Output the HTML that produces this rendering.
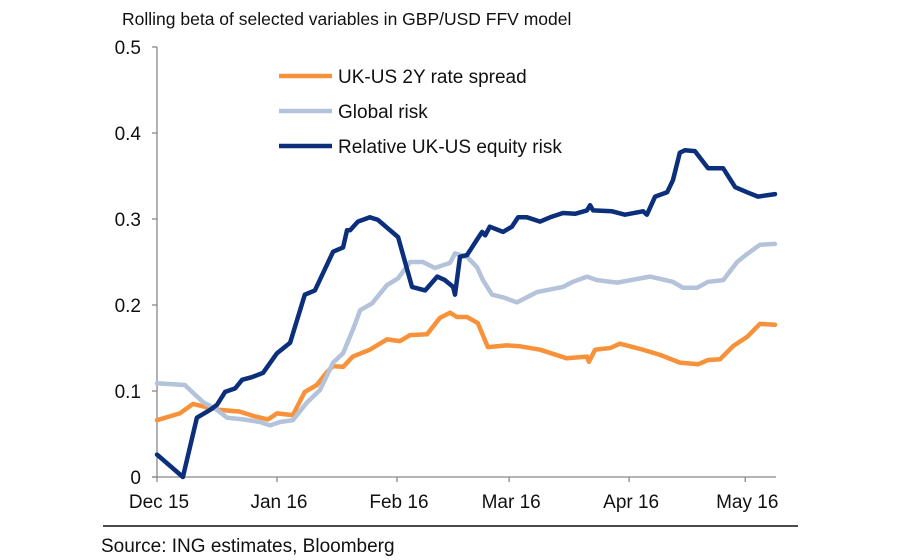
<!DOCTYPE html>
<html><head><meta charset="utf-8">
<style>
html,body{margin:0;padding:0;background:#fff;}
svg{display:block;font-family:"Liberation Sans",Arial,sans-serif;}
</style></head>
<body>
<svg id="chart" width="904" height="560" viewBox="0 0 904 560">
<text x="122" y="25" font-size="17.5" fill="#111">Rolling beta of selected variables in GBP/USD FFV model</text>
<g id="axes"></g>
<g id="series"></g>
<g id="legend">
<line x1="279" y1="76" x2="332" y2="76" stroke="#f7923a" stroke-width="4.5"/>
<text x="338" y="83" font-size="19" fill="#111">UK-US 2Y rate spread</text>
<line x1="279" y1="111" x2="332" y2="111" stroke="#b4c2da" stroke-width="4.5"/>
<text x="338" y="118" font-size="19" fill="#111">Global risk</text>
<line x1="279" y1="146" x2="332" y2="146" stroke="#0c2f7c" stroke-width="4.5"/>
<text x="338" y="153" font-size="19" fill="#111">Relative UK-US equity risk</text>
</g>
<line x1="103" y1="526" x2="798" y2="526" stroke="#111" stroke-width="1.5"/>
<text x="101" y="552" font-size="19" fill="#111">Source: ING estimates, Bloomberg</text>
</svg>
<script>
const yTicks = [0, 0.1, 0.2, 0.3, 0.4, 0.5];
const yTickLabels = ["0", "0.1", "0.2", "0.3", "0.4", "0.5"];
const monthDays = [0, 31, 62, 91, 122, 152];
const monthLabels = ["Dec 15", "Jan 16", "Feb 16", "Mar 16", "Apr 16", "May 16"];

const equityDays = [0,6.7,10.3,13.7,15.5,17.6,20.2,22,24.5,27.4,31,34.4,38.2,40.8,45.5,48.1,49.1,49.9,51.9,55,57.1,59.4,62.3,65.9,69.3,72.4,74.4,76.5,77,78.3,80.1,82.7,84,84.8,86,89.4,91.7,93.3,95.6,99,101.6,104.9,108,111.1,111.9,112.7,117.6,120.9,125.6,126.6,128.7,131.8,133.3,135.1,136.4,139,142.4,146.3,149.4,152.5,155.3,159.7];
const equityValues = [.026,0,.069,.078,.084,.099,.103,.113,.116,.121,.144,.156,.212,.217,.262,.267,.287,.287,.297,.302,.299,.290,.279,.221,.217,.233,.229,.221,.212,.256,.258,.276,.285,.281,.291,.285,.291,.302,.302,.297,.302,.307,.306,.310,.316,.310,.309,.305,.309,.305,.326,.331,.345,.377,.380,.379,.359,.359,.337,.331,.326,.329];

const globalDays = [0,7.2,9.3,11.9,15.5,18.1,22.2,26.6,29.2,31.8,35.1,38.8,42.1,45.5,48.1,50.6,52.5,55.6,59.4,62.3,65.4,68.7,71.8,75.7,77,80.1,82.7,84.2,86.6,89.4,93,98.2,104.9,107.5,111.1,113.7,118.9,127.4,133.3,135.9,139.5,142.4,146.3,149.9,152.7,155.8,159.7];
const globalValues = [.109,.107,.098,.087,.078,.069,.067,.064,.060,.064,.066,.087,.101,.133,.144,.171,.194,.202,.223,.231,.250,.250,.243,.249,.260,.256,.244,.229,.212,.209,.203,.215,.221,.227,.233,.229,.226,.233,.227,.220,.220,.227,.229,.250,.260,.270,.271];

const rateDays = [0,5.9,9.3,12.9,16.3,21.4,24.8,28.7,31,35.1,38.2,41.3,43.9,45.5,48.1,50.6,55,59.4,62.8,65.4,69.8,73.1,75.7,77.5,80.1,82.9,85.5,90.4,93.8,99,105.9,111.1,111.6,113.2,117.1,119.6,124.8,130,135.1,139.8,142.4,145.5,148.8,152.5,155.8,159.7];
const rateValues = [.066,.074,.085,.081,.078,.076,.071,.067,.074,.072,.099,.107,.122,.129,.128,.140,.148,.160,.158,.165,.166,.185,.191,.186,.186,.179,.151,.153,.152,.148,.138,.140,.134,.148,.150,.155,.149,.142,.133,.131,.136,.137,.152,.163,.178,.177];

const NS = "http://www.w3.org/2000/svg";
const X0 = 157, PX_PER_DAY = 3.87, Y0 = 477, PX_PER_UNIT = 860;
function xScale(d){ return X0 + d * PX_PER_DAY; }
function yScale(v){ return Y0 - v * PX_PER_UNIT; }
function mk(tag, attrs, parent){ const e = document.createElementNS(NS, tag); for (const k in attrs) e.setAttribute(k, attrs[k]); parent.appendChild(e); return e; }

const axes = document.getElementById('axes');
const yAxis = mk('line', {x1:X0, y1:yScale(0.5), x2:X0, y2:Y0, stroke:'#888', 'stroke-width':1.3}, axes);


const xAxis = mk('line', {x1:X0-5, y1:Y0, x2:776, y2:Y0, stroke:'#888', 'stroke-width':1.3}, axes);


yTicks.forEach((v, i) => {
  const t = mk('line', {x1:X0-5, y1:yScale(v), x2:X0, y2:yScale(v), stroke:'#888', 'stroke-width':1.3}, axes);
  
  
  const l = mk('text', {x:X0-16, y:yScale(v)+7, 'font-size':19, 'text-anchor':'end', fill:'#111'}, axes);
  l.textContent = yTickLabels[i];
  
  
});
monthDays.forEach((d, i) => {
  const t = mk('line', {x1:xScale(d), y1:Y0, x2:xScale(d), y2:Y0+5, stroke:'#888', 'stroke-width':1.3}, axes);
  
  
  const l = mk('text', {x:xScale(d)+2, y:Y0+31, 'font-size':19, 'text-anchor':'middle', fill:'#111'}, axes);
  l.textContent = monthLabels[i];
  
  
});

const seriesG = document.getElementById('series');
function drawLine(days, vals, color, name){
  const pts = days.map((d, i) => xScale(d).toFixed(1) + ',' + yScale(vals[i]).toFixed(1)).join(' ');
  const p = mk('polyline', {points:pts, fill:'none', stroke:color, 'stroke-width':4.5, 'stroke-linejoin':'round', 'stroke-linecap':'round'}, seriesG);
  
  
}
drawLine(rateDays, rateValues, '#f7923a', 'line-rate-spread');
drawLine(globalDays, globalValues, '#b4c2da', 'line-global-risk');
drawLine(equityDays, equityValues, '#0c2f7c', 'line-equity-risk');
</script>
</body></html>
